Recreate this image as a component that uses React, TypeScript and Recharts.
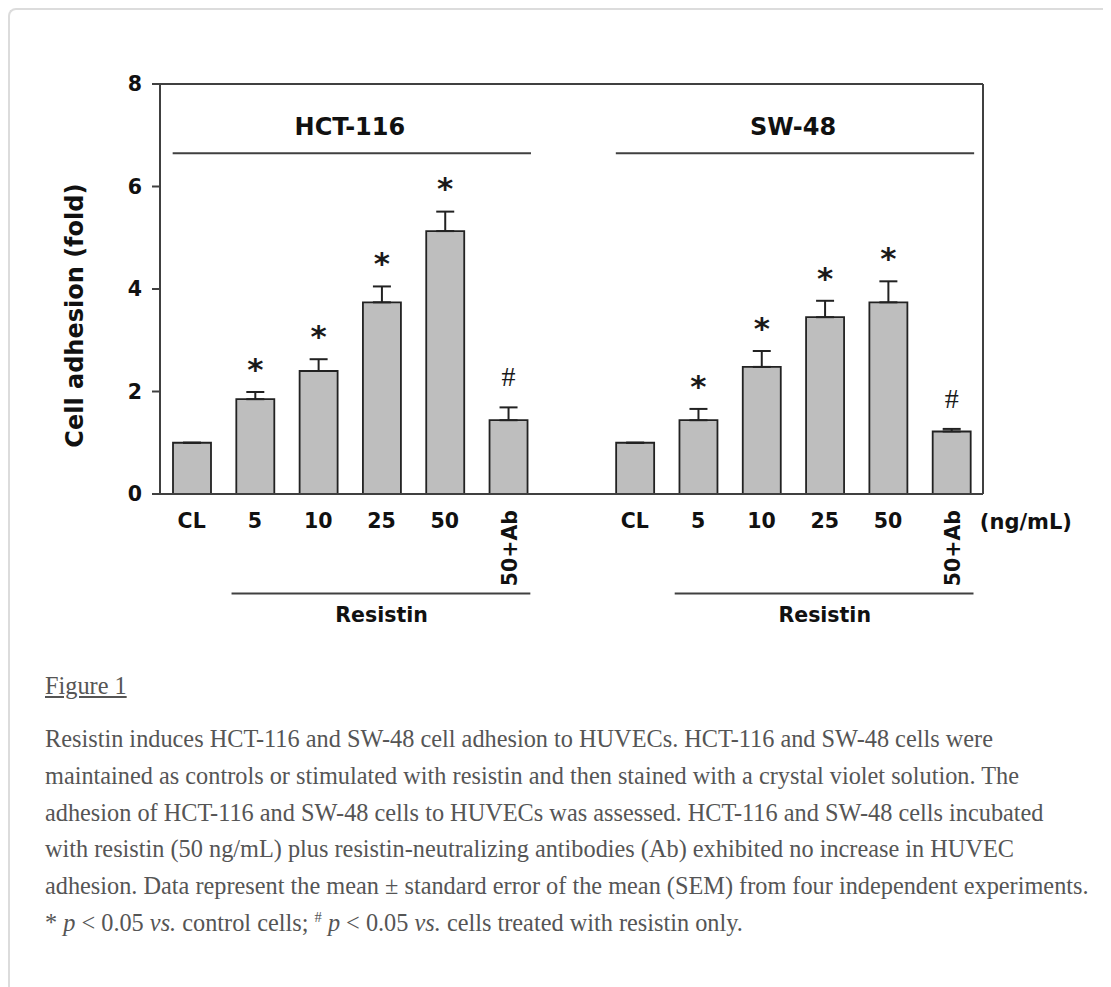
import React from 'react';
import { BarChart, Bar, XAxis, YAxis, ErrorBar, LabelList, ReferenceLine, ReferenceDot } from 'recharts';

// ---- data ----
const doseLabels = ['CL', '5', '10', '25', '50', '50+Ab'];
const cellLines = ['HCT-116', 'SW-48'];
const hctMean = [1.0, 1.85, 2.4, 3.74, 5.13, 1.44];
const hctSem = [0, 0.14, 0.23, 0.31, 0.38, 0.25];
const swMean = [1.0, 1.44, 2.48, 3.45, 3.74, 1.22];
const swSem = [0, 0.22, 0.31, 0.32, 0.41, 0.05];
const hctMarks = ['', '*', '*', '*', '*', '#'];
const swMarks = ['', '*', '*', '*', '*', '#'];
const yTicks = [0, 2, 4, 6, 8];
const yLabel = 'Cell adhesion (fold)';
const treatmentLabel = 'Resistin';
const unitLabel = '(ng/mL)';

const GROUP_GAP = 1;
const groups = [
  { name: cellLines[0], mean: hctMean, sem: hctSem, marks: hctMarks },
  { name: cellLines[1], mean: swMean, sem: swSem, marks: swMarks },
];
const slotsPerGroup = doseLabels.length + GROUP_GAP;
const rows = groups.flatMap((g, gi) =>
  g.mean.map((m, i) => ({
    pos: gi * slotsPerGroup + i,
    label: doseLabels[i],
    mean: m,
    sem: g.sem[i],
    range: [0, g.sem[i]],
    mark: g.marks[i],
  }))
);
const xMax = rows[rows.length - 1].pos + 0.5;

const AX = '#404040';
const BOLD = '"DejaVu Sans", sans-serif';

const XTick = (props: any) => {
  const { x, y, payload } = props;
  const row = rows.find((r) => r.pos === payload.value);
  if (!row) return null;
  if (row.label.length > 3) {
    return (
      <text
        x={0}
        y={0}
        transform={`translate(${x + 9},${y + 16}) rotate(-90)`}
        textAnchor="end"
        fontFamily={BOLD}
        fontWeight="bold"
        fontSize={20.5}
        fill="#111"
      >
        {row.label}
      </text>
    );
  }
  return (
    <text x={x} y={y + 34} textAnchor="middle" fontFamily={BOLD} fontWeight="bold" fontSize={20.5} fill="#111">
      {row.label}
    </text>
  );
};

const MarkLabel = (props: any) => {
  const { x, y, width, height, index } = props;
  const row = rows[index];
  if (!row || !row.mark) return null;
  const pxPerUnit = height / row.mean;
  const top = y - row.sem * pxPerUnit;
  const cx = x + width / 2;
  if (row.mark === '*') {
    return (
      <text
        x={cx}
        y={top - 29 + 0.54 * 31}
        textAnchor="middle"
        fontFamily='"DejaVu Sans", sans-serif'
        fontWeight="bold"
        fontSize={31}
        fill="#1a1a1a"
      >
        *
      </text>
    );
  }
  return (
    <text x={cx} y={top - 30.6 + 9.5} textAnchor="middle" fontFamily='"Liberation Serif", serif' fontSize={28} fill="#1a1a1a">
      {row.mark}
    </text>
  );
};

const textShape = (txt: string, size: number, anchor: string, rotate = false) => (p: any) =>
  (
    <text
      x={p.cx}
      y={p.cy}
      textAnchor={anchor}
      transform={rotate ? `rotate(-90, ${p.cx}, ${p.cy})` : undefined}
      fontFamily={BOLD}
      fontWeight="bold"
      fontSize={size}
      fill="#111"
    >
      {txt}
    </text>
  );

const hLine = (x1: number, x2: number, y: number, key: string) => (
  <ReferenceLine
    key={key}
    segment={[{ x: x1, y }, { x: x2, y }]}
    stroke={AX}
    strokeWidth={2}
    ifOverflow="visible"
  />
);

const captionFont = '"Liberation Serif", "Times New Roman", serif';

export default function App() {
  const first = (gi: number) => gi * slotsPerGroup;
  const last = (gi: number) => gi * slotsPerGroup + doseLabels.length - 1;
  return (
    <div
      style={{
        position: 'relative',
        width: 1103,
        height: 979,
        borderTop: '2px solid #dcdcdc',
        borderLeft: '2px solid #dcdcdc',
        borderTopLeftRadius: 8,
        boxSizing: 'border-box',
      }}
    >
      <div style={{ position: 'absolute', left: -10, top: -10 }}>
        <BarChart width={1111} height={660} data={rows} margin={{ top: 84, right: 128, bottom: 136, left: 0 }}>
          <XAxis
            type="number"
            dataKey="pos"
            domain={[-0.5, xMax]}
            ticks={rows.map((r) => r.pos)}
            interval={0}
            tick={<XTick />}
            tickLine={false}
            tickSize={0}
            tickMargin={0}
            height={30}
            axisLine={{ stroke: AX, strokeWidth: 2 }}
          />
          <YAxis
            domain={[0, 8]}
            ticks={yTicks}
            width={160}
            tickSize={8}
            tickMargin={10}
            tickLine={{ stroke: AX, strokeWidth: 2 }}
            axisLine={{ stroke: AX, strokeWidth: 2 }}
            tick={{ fontFamily: BOLD, fontWeight: 'bold', fontSize: 20.5, fill: '#111' }}
          />
          <ReferenceLine y={8} stroke={AX} strokeWidth={2} />
          <ReferenceLine x={xMax} stroke={AX} strokeWidth={2} />
          <Bar dataKey="mean" barSize={38} fill="#bebebe" stroke="#222" strokeWidth={1.8} isAnimationActive={false}>
            <ErrorBar dataKey="range" direction="y" width={9} stroke="#222" strokeWidth={2} />
            <LabelList dataKey="mark" content={<MarkLabel />} />
          </Bar>
          {groups.map((g, gi) => hLine(first(gi) - 0.3, last(gi) + 0.36, 6.65, 'g' + gi))}
          {groups.map((g, gi) => hLine(first(gi) + 0.63, last(gi) + 0.35, -1.94, 'r' + gi))}
          {groups.map((g, gi) => (
            <ReferenceDot
              key={'gt' + gi}
              x={(first(gi) + last(gi)) / 2}
              y={7}
              r={1}
              ifOverflow="visible"
              shape={textShape(g.name, 24, 'middle')}
            />
          ))}
          {groups.map((g, gi) => (
            <ReferenceDot
              key={'rt' + gi}
              x={(first(gi) + 1 + last(gi)) / 2}
              y={-2.5}
              r={1}
              ifOverflow="visible"
              shape={textShape(treatmentLabel, 20.5, 'middle')}
            />
          ))}
          <ReferenceDot x={xMax - 0.05} y={-0.69} r={1} ifOverflow="visible" shape={textShape(unitLabel, 21, 'start')} />
          <ReferenceDot x={-1.72} y={3.48} r={1} ifOverflow="visible" shape={textShape(yLabel, 24, 'middle', true)} />
        </BarChart>
      </div>
      <div
        style={{
          position: 'absolute',
          left: 35,
          top: 664,
          fontFamily: captionFont,
          fontSize: 24.3,
          lineHeight: '24px',
          color: '#555',
          textDecoration: 'underline',
          whiteSpace: 'nowrap',
        }}
      >
        Figure 1
      </div>
      <div
        style={{
          position: 'absolute',
          left: 35,
          top: 711,
          fontFamily: captionFont,
          fontSize: 24.3,
          lineHeight: '36.8px',
          color: '#555',
          whiteSpace: 'nowrap',
        }}
      >
        <div>Resistin induces HCT-116 and SW-48 cell adhesion to HUVECs. HCT-116 and SW-48 cells were</div>
        <div>maintained as controls or stimulated with resistin and then stained with a crystal violet solution. The</div>
        <div>adhesion of HCT-116 and SW-48 cells to HUVECs was assessed. HCT-116 and SW-48 cells incubated</div>
        <div>with resistin (50 ng/mL) plus resistin-neutralizing antibodies (Ab) exhibited no increase in HUVEC</div>
        <div>adhesion. Data represent the mean ± standard error of the mean (SEM) from four independent experiments.</div>
        <div>
          * <i>p</i> &lt; 0.05 <i>vs.</i> control cells; <sup style={{ fontSize: '60%', lineHeight: 0 }}>#</sup> <i>p</i> &lt; 0.05{' '}
          <i>vs.</i> cells treated with resistin only.
        </div>
      </div>
    </div>
  );
}
